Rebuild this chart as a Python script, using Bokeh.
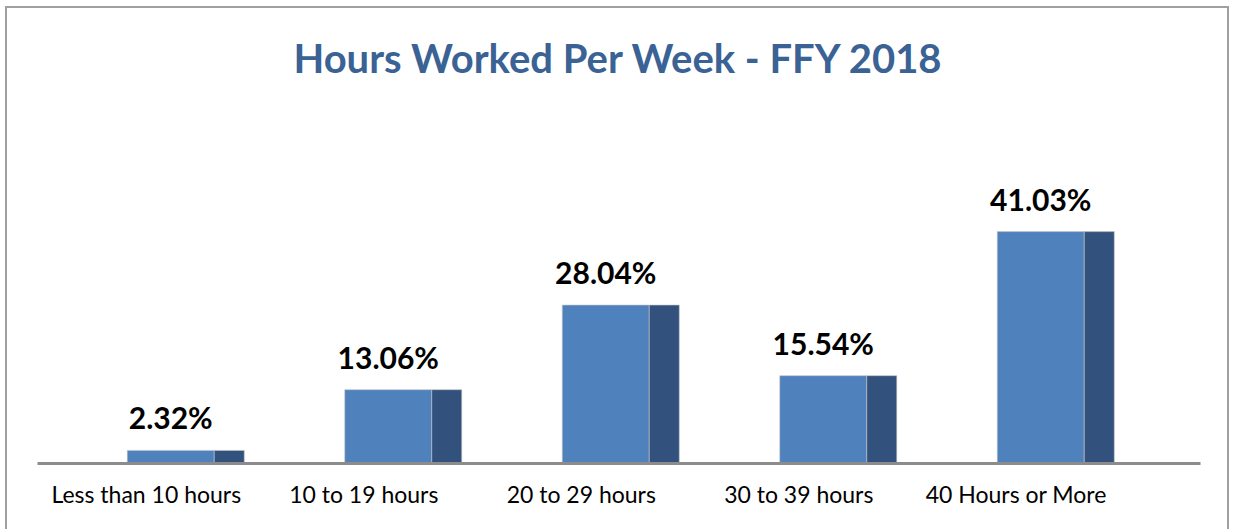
from bokeh.plotting import figure
from bokeh.models import ColumnDataSource, FixedTicker
from bokeh.core.properties import value
from bokeh.embed import file_html
from bokeh.resources import INLINE

categories = ["Less than 10 hours", "10 to 19 hours", "20 to 29 hours", "30 to 39 hours", "40 Hours or More"]
percent = [2.32, 13.06, 28.04, 15.54, 41.03]
labels = ["2.32%", "13.06%", "28.04%", "15.54%", "41.03%"]

xc = [i + 0.5 for i in range(len(categories))]
FRONT_OFF, FRONT_W = 0.1126, 0.40
SIDE_OFF, SIDE_W = 0.3816, 0.138

src = ColumnDataSource(dict(
    xf=[x + FRONT_OFF for x in xc],
    xs=[x + SIDE_OFF for x in xc],
    top=percent,
    lab=labels,
))

p = figure(width=1224, height=523, x_range=(0, 5.347), y_range=(0, 66),
           output_backend="svg", toolbar_location=None,
           min_border_left=30, min_border_right=31, min_border_bottom=68, min_border_top=82,
           title="Hours Worked Per Week - FFY 2018")
p.styles = {"border": "2px solid #a0a0a0", "border-bottom": "none",
            "margin-left": "5px", "margin-top": "6px"}
p.outline_line_color = None
p.grid.visible = False
p.yaxis.visible = False
p.background_fill_color = "white"
p.border_fill_color = "white"

p.title.align = "center"
p.title.text_font = "Lato"
p.title.text_font_size = "40px"
p.title.text_font_style = "bold"
p.title.text_color = "#3A6294"
p.title.standoff = 18

p.vbar(x="xf", width=FRONT_W, top="top", bottom=0, source=src,
       fill_color="#4F81BD", line_color="#c4c4c4", line_width=1, line_alpha=0.6)
p.vbar(x="xs", width=SIDE_W, top="top", bottom=0, source=src,
       fill_color="#32527D", line_color="#c4c4c4", line_width=1, line_alpha=0.6)

p.text(x="xf", y="top", text="lab", source=src, y_offset=-33,
       text_align="center", text_baseline="alphabetic",
       text_font=value("Lato"), text_font_size="30px", text_font_style="bold",
       text_color="black")

ax = p.xaxis[0]
ax.ticker = FixedTicker(ticks=xc)
ax.major_label_overrides = {x: c for x, c in zip(xc, categories)}
ax.axis_line_color = "#8c8c8c"
ax.axis_line_width = 3
ax.major_tick_line_color = None
ax.minor_tick_line_color = None
ax.major_label_standoff = 10
ax.major_label_text_font = "Lato"
ax.major_label_text_font_size = "23px"
ax.major_label_text_color = "black"

open("out.html", "w").write(file_html(p, INLINE))
